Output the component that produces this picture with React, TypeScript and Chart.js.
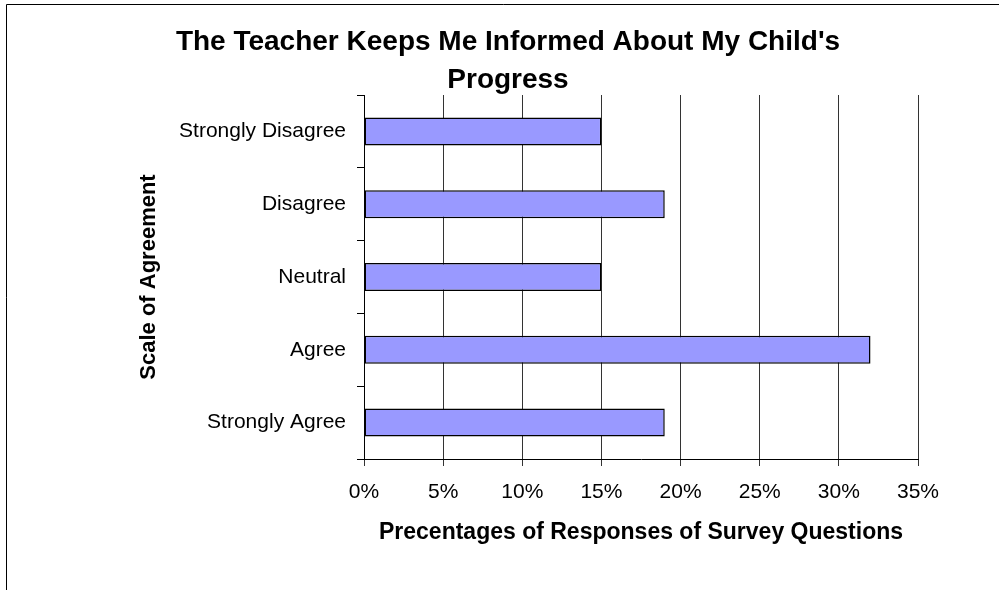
import React, { useEffect, useRef } from "react";
import { Chart, registerables } from "chart.js";

Chart.register(...registerables);

const titleLines = ["The Teacher Keeps Me Informed About My Child's", "Progress"];
const categories = ["Strongly Disagree", "Disagree", "Neutral", "Agree", "Strongly Agree"];
const percentages = [15, 19, 15, 32, 19];
const xMin = 0;
const xMax = 35;
const xStep = 5;
const xAxisTitle = "Precentages of Responses of Survey Questions";
const yAxisTitle = "Scale of Agreement";

const FONT = "'Liberation Sans', Arial, sans-serif";

const framePlugin = {
  id: "frame",
  beforeDraw(chart: any) {
    const ctx = chart.ctx;
    ctx.save();
    ctx.fillStyle = "#ffffff";
    ctx.fillRect(0, 0, chart.width, chart.height);
    ctx.strokeStyle = "#000000";
    ctx.lineWidth = 1;
    ctx.beginPath();
    ctx.moveTo(6.5, chart.height + 2);
    ctx.lineTo(6.5, 4.5);
    ctx.lineTo(chart.width + 2, 4.5);
    ctx.stroke();
    ctx.restore();
  },
};

export default function App() {
  const ref = useRef<HTMLCanvasElement | null>(null);

  useEffect(() => {
    document.body.style.margin = "0";
    const canvas = ref.current;
    if (!canvas) return;
    const chart = new Chart(canvas, {
      type: "bar",
      data: {
        labels: categories,
        datasets: [
          {
            data: percentages,
            backgroundColor: "#9999FF",
            borderColor: "#000000",
            borderWidth: 1.5,
            borderSkipped: false,
            categoryPercentage: 1,
            barPercentage: 0.385,
          },
        ],
      },
      options: {
        indexAxis: "y",
        animation: false,
        responsive: false,
        devicePixelRatio: 1,
        layout: { padding: { left: 98, right: 81, top: 0, bottom: 0 } },
        plugins: {
          legend: { display: false },
          tooltip: { enabled: false },
          title: {
            display: true,
            text: titleLines,
            color: "#000000",
            font: { family: FONT, size: 28, weight: "bold", lineHeight: 38 / 28 },
            padding: { top: 23, bottom: -4 },
          },
        },
        scales: {
          x: {
            type: "linear",
            min: xMin,
            max: xMax,
            afterFit(scale: any) {
              scale.height = 131;
            },
            ticks: {
              stepSize: xStep,
              padding: 14,
              color: "#000000",
              font: { family: FONT, size: 21 },
              callback: (v: any) => v + "%",
            },
            grid: {
              color: "#333333",
              lineWidth: 1,
              drawTicks: true,
              tickLength: 7,
            },
            border: { display: true, color: "#000000", width: 1 },
            title: {
              display: true,
              text: xAxisTitle,
              color: "#000000",
              font: { family: FONT, size: 23, weight: "bold", lineHeight: 1.2 },
              padding: { top: 0, bottom: 43.5 },
            },
          },
          y: {
            type: "category",
            afterFit(scale: any) {
              scale.width = 266;
            },
            ticks: {
              padding: 11,
              color: "#000000",
              font: { family: FONT, size: 21 },
            },
            grid: {
              drawOnChartArea: false,
              drawTicks: true,
              tickLength: 7,
              color: "#000000",
              offset: true,
            },
            border: { display: true, color: "#000000", width: 1 },
            title: {
              display: true,
              text: yAxisTitle,
              color: "#000000",
              font: { family: FONT, size: 22, weight: "bold", lineHeight: 1.2 },
              padding: { top: 37.8, bottom: 0 },
            },
          },
        },
      },
      plugins: [framePlugin],
    } as any);
    return () => chart.destroy();
  }, []);

  return (
    <canvas
      ref={ref}
      width={999}
      height={590}
      style={{ display: "block", width: "999px", height: "590px" }}
    />
  );
}
